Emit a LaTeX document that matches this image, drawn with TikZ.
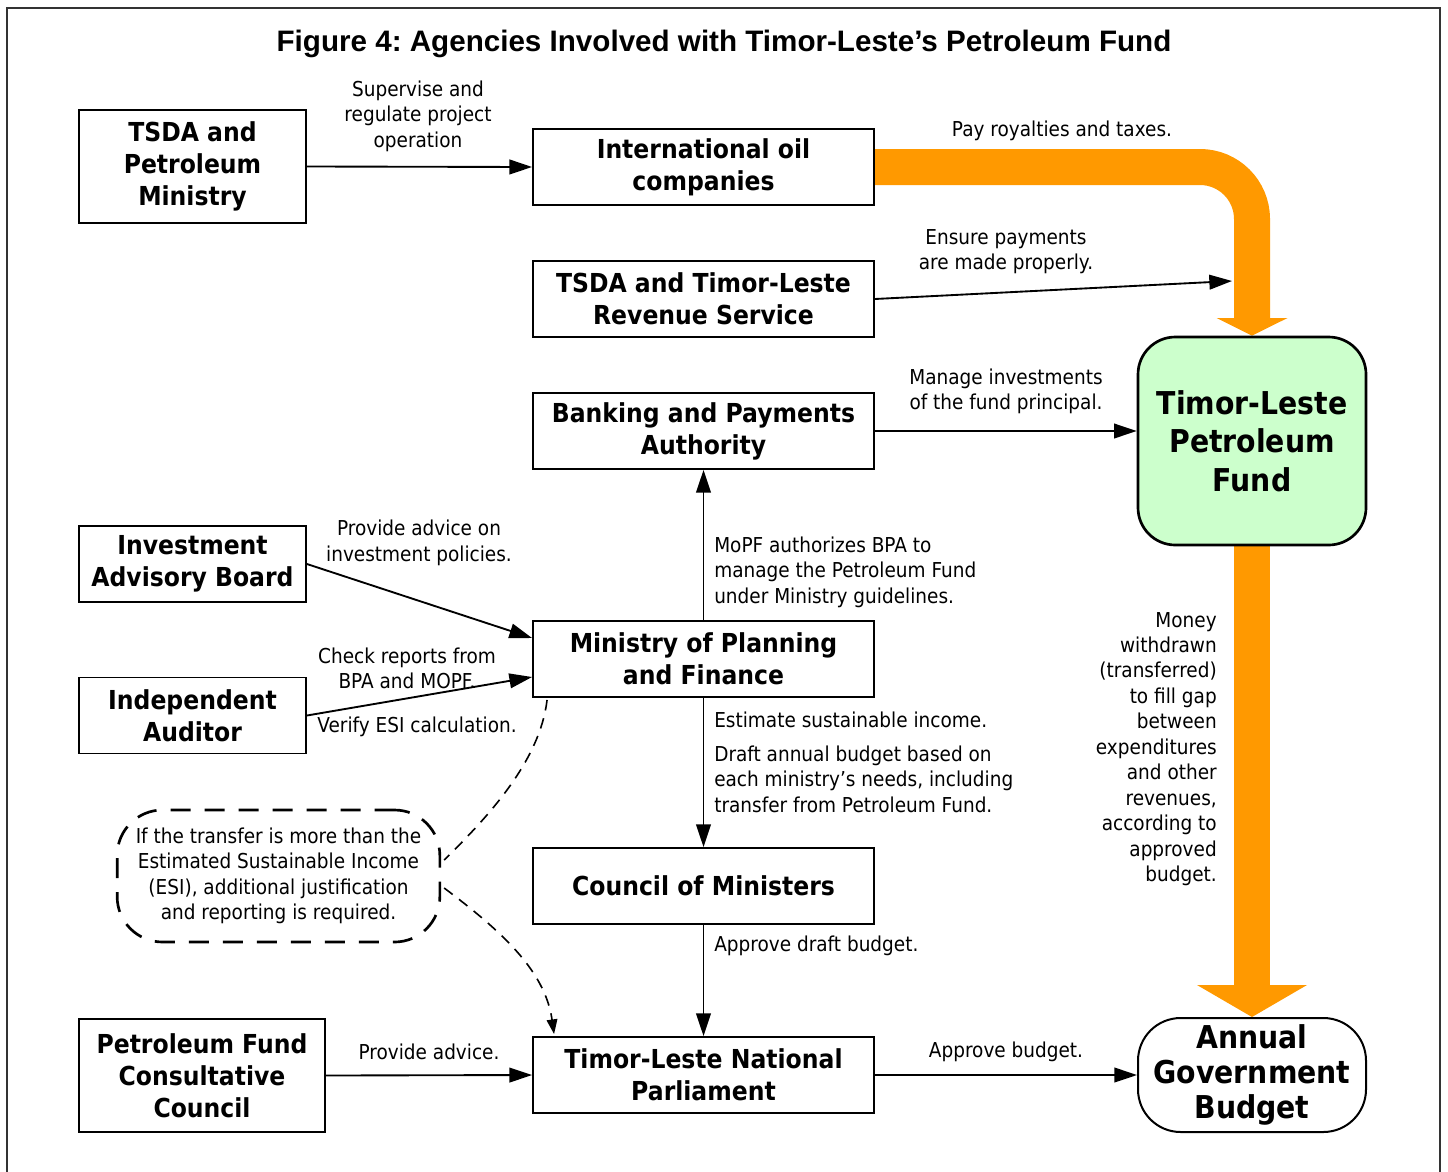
\documentclass[tikz,border=0pt]{standalone}
\usepackage{fontspec}
\setmainfont{DejaVu Sans}[FakeStretch=0.9]
\newfontfamily\titlefont{Liberation Sans}
\usetikzlibrary{arrows.meta,calc,backgrounds}
\definecolor{fundorange}{RGB}{255,153,0}
\definecolor{fundgreen}{RGB}{204,255,204}
\newcommand\smalltxt{\fontsize{15.4pt}{19.1pt}\selectfont}
\newcommand\boxtxt{\fontsize{19.6pt}{24pt}\selectfont\bfseries}
\newcommand\bigtxt{\fontsize{23.6pt}{28.9pt}\selectfont\bfseries}
\newcommand\agbtxt{\fontsize{23.6pt}{26.3pt}\selectfont\bfseries}
\frenchspacing
\begin{document}
\begin{tikzpicture}[x=0.75pt,y=-0.75pt,
  box/.style={draw, line width=1.4pt, inner sep=0pt, align=center, font=\boxtxt},
  wbox/.style={box, minimum width=255.75pt, minimum height=57pt},
  sbox/.style={box, minimum width=170.25pt, minimum height=57pt},
  lbl/.style={inner sep=0pt, font=\smalltxt},
  conn/.style={line width=1.4pt, -{Triangle[length=17pt,width=11pt]}},
  dconn/.style={line width=1.2pt, dash pattern=on 8pt off 6pt},
  band/.style={fundorange, line width=27pt}
]
\useasboundingbox (0,0) rectangle (1448,1171);
\draw[line width=2.2pt, black!80] (7,1175) -- (7,8) -- (1440,8) -- (1440,1175);

\node[font=\titlefont\bfseries\fontsize{22.2pt}{26pt}\selectfont, inner sep=0pt] (title) at (724,44) {Figure 4: Agencies Involved with Timor-Leste’s Petroleum Fund};

% boxes
\node[box, minimum width=170.25pt, minimum height=84.75pt] (tpm) at (192.5,166.5) {TSDA and\\Petroleum\\Ministry};
\node[wbox] (ioc) at (703.5,167) {International oil\\companies};
\node[wbox] (trs) at (703.5,299) {TSDA and Timor-Leste\\Revenue Service};
\node[wbox] (bpa) at (703.5,431) {Banking and Payments\\Authority};
\node[sbox] (iab) at (192.5,564) {Investment\\Advisory Board};
\node[sbox] (ia) at (192.5,715.5) {Independent\\Auditor};
\node[wbox] (mopf) at (703.5,659) {Ministry of Planning\\and Finance};
\node[wbox] (com) at (703.5,886) {Council of Ministers};
\node[box, minimum width=184.5pt, minimum height=84.75pt] (pfcc) at (202,1075.5) {Petroleum Fund\\Consultative\\Council};
\node[wbox] (nip) at (703.5,1075) {Timor-Leste National\\Parliament};
\node[draw, line width=2pt, fill=fundgreen, rounded corners=28pt, minimum width=171pt, minimum height=156pt, inner sep=0pt, align=center, font=\bigtxt] (fund) at (1252,441) {Timor-Leste\\Petroleum\\Fund};
\node[draw, line width=1.5pt, rounded corners=32pt, minimum width=171pt, minimum height=85.5pt, inner sep=0pt, align=center, font=\agbtxt] (agb) at (1252,1075) {Annual\\Government\\Budget};
\node[draw, line width=2pt, dash pattern=on 15pt off 10.5pt, rounded corners=34pt, minimum width=242pt, minimum height=99pt, inner sep=0pt, align=center, font=\smalltxt] (note) at (278.5,876) {If the transfer is more than the\\Estimated Sustainable Income\\(ESI), additional justification\\and reporting is required.};

% orange flows
\coordinate (corner) at (1252,167);
\coordinate (headtop) at (1252,318);
\coordinate (headbot) at (1252,985);
\begin{pgfonlayer}{background}
\draw[band, rounded corners=39pt] (ioc.east) -- (corner) -- (headtop);
\fill[fundorange] ($(headtop)+(-35.5,0)$) -- ($(headtop)+(35.5,0)$) -- (fund.north) -- cycle;
\draw[band] (fund.south) -- (headbot);
\fill[fundorange] ($(headbot)+(-55,0)$) -- ($(headbot)+(55,0)$) -- (agb.north) -- cycle;
\end{pgfonlayer}

% connectors
\coordinate (bandin) at (1232,281);
\draw[conn] (tpm.east) -- (ioc.west);
\draw[conn] (trs.east) -- (bandin);
\draw[conn] (bpa.east) -- (bpa.east -| fund.west);
\draw[conn] (iab.east) -- ($(mopf.west)+(0,-21)$);
\draw[conn] (ia.east) -- ($(mopf.west)+(0,18)$);
\draw[conn] (mopf.north) -- (bpa.south);
\draw[conn] (mopf.south) -- (com.north);
\draw[conn] (com.south) -- (nip.north);
\draw[conn] (pfcc.east) -- (nip.west);
\draw[conn] (nip.east) -- (agb.west);
\draw[dconn] ($(mopf.south west)+(15,2)$) .. controls (540,760) and (490,815) .. ($(note.east)+(3,-16)$);
\draw[dconn, -{Triangle[length=11pt,width=8pt]}] ($(note.east)+(3,12)$) .. controls (500,930) and (545,970) .. ($(nip.north west)+(22,-2)$);

% labels
\node[lbl, align=center] (l1) at (418,116) {Supervise and\\regulate project\\operation};
\node[lbl] (l2) at (1062,131) {Pay royalties and taxes.};
\node[lbl, align=center] (l3) at (1006,251.5) {Ensure payments\\are made properly.};
\node[lbl, align=center] (l4) at (1006,391.5) {Manage investments\\of the fund principal.};
\node[lbl, align=center] (l5) at (419,543) {Provide advice on\\investment policies.};
\node[lbl, align=left, anchor=west] (l6) at (714,572) {MoPF authorizes BPA to\\manage the Petroleum Fund\\under Ministry guidelines.};
\node[lbl, align=center] (l7) at (407,668.5) {Check reports from\\BPA and MOPF.};
\node[lbl] (l8) at (417,727) {Verify ESI calculation.};
\node[lbl, anchor=west] (l9) at (714,720) {Estimate sustainable income.};
\node[lbl, align=left, anchor=west] (l10) at (714,779) {Draft annual budget based on\\each ministry’s needs, including\\transfer from Petroleum Fund.};
\node[lbl, anchor=west] (l11) at (714,945.5) {Approve draft budget.};
\node[lbl] (l12) at (429,1051.5) {Provide advice.};
\node[lbl] (l13) at (1006,1051.5) {Approve budget.};
\node[lbl, align=right, anchor=east] (l14) at (1217,749) {Money\\withdrawn\\(transferred)\\to fill gap\\between\\expenditures\\and other\\revenues,\\according to\\approved\\budget.};
\end{tikzpicture}
\end{document}
